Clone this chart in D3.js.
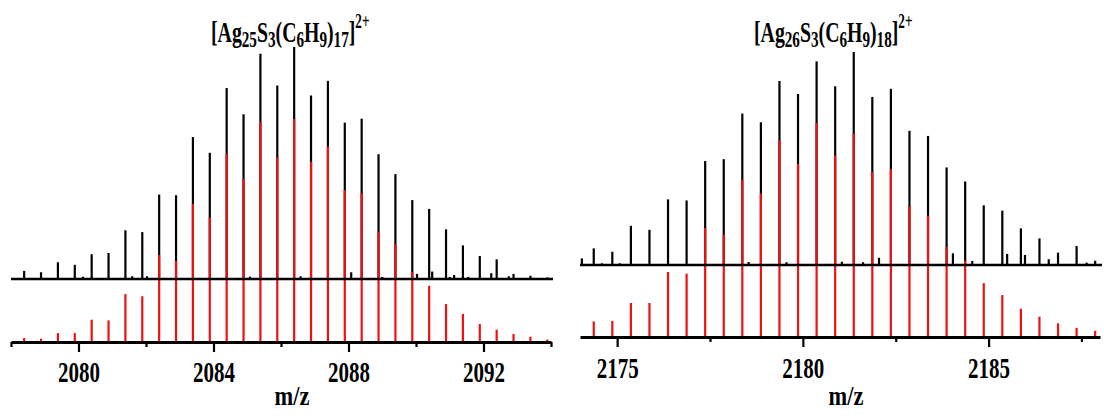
<!DOCTYPE html>
<html><head><meta charset="utf-8">
<script src="https://cdn.jsdelivr.net/npm/d3@7/dist/d3.min.js"></script>
<style>
html,body{margin:0;padding:0;background:#fff;}
svg{display:block;}
text{font-family:"Liberation Serif","Times New Roman",serif;font-weight:bold;fill:#000;}
</style></head>
<body><svg id="chart" width="1104" height="416"></svg>
<script>
// ---------- data ----------
const leftMz = [2078.39,2078.89,2079.39,2079.89,2080.39,2080.89,2081.39,2081.89,2082.39,2082.89,2083.39,2083.89,2084.39,2084.89,2085.39,2085.89,2086.39,2086.89,2087.39,2087.89,2088.39,2088.89,2089.39,2089.89,2090.39,2090.89,2091.39,2091.89,2092.39,2092.89,2093.39,2093.89];
const leftExp = [3.5,2.9,7.2,6.1,10.7,11.2,21.0,20.2,36.4,36.1,61.2,54.4,82.3,71.0,97.1,83.4,100,79.1,85.4,67.4,69.1,53.8,45.2,34.0,30.2,21.4,14.5,9.9,8.5,2.2,1.4,0.7];
const leftSim = [1.8,1.5,4.0,4.0,10.0,9.7,21.5,20.5,39.0,36.4,61.9,55.8,84.3,73.2,98.7,82.7,100,80.8,87.7,68.1,66.7,49.5,43.9,31.4,25.2,17.0,12.6,8.1,5.5,3.6,2.4,1.1];
const leftNoiseMz = [2080.13,2081.59,2082.03,2085.08,2086.58,2088.08,2089.00,2090.03,2090.48,2091.00,2091.13,2091.55,2092.23,2092.75];
const leftNoise = [1.0,1.2,1.2,1.0,1.2,2.9,0.9,2.2,3.2,0.9,1.7,0.9,2.5,1.2];
const leftMajorTicks = [2080,2084,2088,2092];
const leftMinorTicks = [2078,2082,2086,2090,2094];

const rightMz = [2174.37,2174.87,2175.37,2175.87,2176.37,2176.87,2177.37,2177.87,2178.37,2178.87,2179.37,2179.87,2180.37,2180.87,2181.37,2181.87,2182.37,2182.87,2183.37,2183.87,2184.37,2184.87,2185.37,2185.87,2186.37,2186.87,2187.37,2187.87];
const rightExp = [7.8,6.2,18.4,16.5,30.8,30.3,48.8,49.7,71.1,67.0,86.4,80.3,95.6,83.9,100,78.9,82.7,63.0,60.6,45.8,39.2,28.0,25.5,17.2,12.5,5.8,8.9,2.0];
const rightSim = [7.3,7.5,15.9,15.9,30.4,29.6,50.9,47.8,73.5,67.0,91.9,80.8,100,84.9,95.0,77.1,78.5,60.9,56.7,42.1,35.7,25.2,19.6,13.2,9.5,6.4,4.3,2.9];
const rightNoiseMz = [2174.05,2174.59,2175.07,2178.54,2179.56,2181.05,2181.62,2182.05,2184.04,2184.56,2185.50,2185.98,2186.62,2187.64];
const rightNoise = [3.1,0.8,0.8,1.4,1.3,1.5,1.3,3.4,5.5,1.9,5.2,4.7,2.7,1.1];
const rightMajorTicks = [2175,2180,2185];
const rightMinorTicks = [2177.5,2182.5,2187.5];

const xLabel = "m/z";

// ---------- drawing ----------
const svg = d3.select("#chart");

function title(g, x, y, parts) {
  const t = g.append("text").attr("transform", `translate(${x},${y}) scale(0.66,1)`)
    .attr("font-size", 30);
  parts.forEach(p => {
    const s = t.append("tspan").text(p[0]);
    if (p[1] === "sub") s.attr("font-size", 23).attr("dy", 5);
    else if (p[1] === "sup") s.attr("font-size", 20).attr("dy", -14);
    else if (p[1] === "back") s.attr("dy", -5);
  });
}

function panel(cfg) {
  const g = svg.append("g");
  const x = d3.scaleLinear().domain(cfg.domain).range(cfg.range);
  const yExp = d3.scaleLinear().domain([0, 100]).range([cfg.expBase, cfg.expTop]);
  const ySim = d3.scaleLinear().domain([0, 100]).range([cfg.simBase, cfg.simTop]);

  // experimental (black)
  g.append("g").selectAll("line").data(cfg.mz.map((m, i) => [m, cfg.exp[i]]))
    .join("line")
    .attr("x1", d => x(d[0])).attr("x2", d => x(d[0]))
    .attr("y1", yExp(0)).attr("y2", d => yExp(d[1]))
    .attr("stroke", "#000").attr("stroke-width", 2.2);
  g.append("g").selectAll("line").data(cfg.noiseMz.map((m, i) => [m, cfg.noise[i]]))
    .join("line")
    .attr("x1", d => x(d[0])).attr("x2", d => x(d[0]))
    .attr("y1", yExp(0)).attr("y2", d => yExp(d[1]))
    .attr("stroke", "#000").attr("stroke-width", 2.2);

  // simulated (red)
  g.append("g").selectAll("line").data(cfg.mz.map((m, i) => [m, cfg.sim[i]]))
    .join("line")
    .attr("x1", d => x(d[0])).attr("x2", d => x(d[0]))
    .attr("y1", ySim(0)).attr("y2", d => ySim(d[1]))
    .attr("stroke", "#ee1111").attr("stroke-width", 2.2);

  // black baseline
  g.append("line").attr("x1", cfg.range[0]).attr("x2", cfg.baseEnd)
    .attr("y1", yExp(0)).attr("y2", yExp(0))
    .attr("stroke", "#000").attr("stroke-width", 2.5);

  // axis
  const minor = g.append("g").attr("transform", `translate(0,${ySim(0)})`)
    .call(d3.axisBottom(x).tickValues(cfg.minor).tickSize(5).tickSizeOuter(0).tickFormat(""));
  minor.select(".domain").attr("stroke-width", 3).attr("stroke", "#000");
  minor.selectAll(".tick line").attr("stroke-width", 2.2).attr("stroke", "#000");
  const major = g.append("g").attr("transform", `translate(0,${ySim(0)})`)
    .call(d3.axisBottom(x).tickValues(cfg.major).tickSize(10).tickSizeOuter(0).tickPadding(6)
      .tickFormat(d3.format("d")));
  major.select(".domain").remove();
  major.selectAll(".tick line").attr("stroke-width", 2.2).attr("stroke", "#000");
  major.selectAll(".tick text").remove();
  major.selectAll(".tick").append("text")
    .attr("transform", `translate(0,${cfg.tickLabelY - ySim(0)}) scale(0.7,1)`)
    .attr("text-anchor", "middle").attr("font-size", 30)
    .text(d => d3.format("d")(d));

  g.append("text").attr("transform", `translate(${cfg.xLabelX},${cfg.xLabelY}) scale(0.8,1)`)
    .attr("text-anchor", "middle").attr("font-size", 28).text(xLabel);

  title(g, cfg.titleX, 42, cfg.title);
}

panel({
  domain: [2078, 2094], range: [11, 551], baseEnd: 553,
  expBase: 279, expTop: 47, simBase: 342, simTop: 119,
  mz: leftMz, exp: leftExp, sim: leftSim, noiseMz: leftNoiseMz, noise: leftNoise,
  major: leftMajorTicks, minor: leftMinorTicks, tickLabelY: 382,
  xLabelX: 292, xLabelY: 405, titleX: 211,
  title: [["[Ag"],["25","sub"],["S","back"],["3","sub"],["(C","back"],["6","sub"],["H","back"],["9","sub"],[")","back"],["17","sub"],["]","back"],["2+","sup"]]
});
panel({
  domain: [2174, 2188], range: [580, 1100], baseEnd: 1102,
  expBase: 265, expTop: 52, simBase: 337, simTop: 123,
  mz: rightMz, exp: rightExp, sim: rightSim, noiseMz: rightNoiseMz, noise: rightNoise,
  major: rightMajorTicks, minor: rightMinorTicks, tickLabelY: 378,
  xLabelX: 846, xLabelY: 405, titleX: 754,
  title: [["[Ag"],["26","sub"],["S","back"],["3","sub"],["(C","back"],["6","sub"],["H","back"],["9","sub"],[")","back"],["18","sub"],["]","back"],["2+","sup"]]
});
</script>
</body></html>
